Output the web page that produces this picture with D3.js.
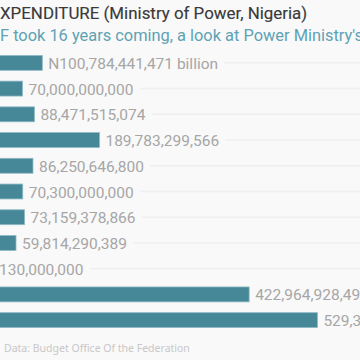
<!DOCTYPE html>
<html>
<head>
<meta charset="utf-8">
<script src="https://cdn.jsdelivr.net/npm/d3@7"></script>
<style>
  html, body { margin: 0; padding: 0; background: #f9f9f9; }
  svg { display: block; }
</style>
</head>
<body>
<script>
// Data (values in naira)
const rows = ["r1","r2","r3","r4","r5","r6","r7","r8","r9","r10","r11"];
const values = [100784441471, 70000000000, 88471515074, 189783299566, 86250646800,
                70300000000, 73159378866, 59814290389, 130000000, 422964928495, 529300000000];
const labels = ["N100,784,441,471 billion", "70,000,000,000", "88,471,515,074", "189,783,299,566",
                "86,250,646,800", "70,300,000,000", "73,159,378,866", "59,814,290,389",
                "130,000,000", "422,964,928,495", "529,300,000,000"];
const titleText = "XPENDITURE (Ministry of Power, Nigeria)";
const subtitleText = "F took 16 years coming, a look at Power Ministry's capital budget";
const sourceText = "Data: Budget Office Of the Federation";

const W = 360, H = 360;
const svg = d3.select("body").append("svg").attr("width", W).attr("height", H);
svg.append("rect").attr("width", W).attr("height", H).attr("fill", "#f9f9f9");

const x = d3.scaleLinear().domain([0, 529300000000]).range([-22.4, 317.4]);
const y = d3.scaleBand().domain(rows).range([50, 333]).paddingInner(0.42).paddingOuter(0.21);

const data = rows.map((r, i) => ({ r, v: values[i], label: labels[i] }));

// Title & subtitle
svg.append("text").attr("x", 0).attr("y", 19)
  .attr("font-family", "Roboto").attr("font-weight", 400).attr("font-size", 16.9)
  .attr("fill", "#3a3a3a").attr("stroke", "#3a3a3a").attr("stroke-width", 0.15)
  .text(titleText);
svg.append("text").attr("x", 0).attr("y", 41)
  .attr("font-family", "Roboto").attr("font-size", 16.4)
  .attr("fill", "#5ea2b4").text(subtitleText);

const g = svg.append("g");
const labelMin = -1;

const row = g.selectAll("g.row").data(data).join("g").attr("class", "row");

row.append("rect")
  .attr("x", x(0))
  .attr("y", d => y(d.r))
  .attr("width", d => Math.max(0, x(d.v) - x(0)))
  .attr("height", y.bandwidth())
  .attr("fill", "#468898")
  .attr("stroke", "#8fbac5").attr("stroke-width", 0.8);

const lbl = row.append("text")
  .attr("x", d => Math.max(x(d.v) + 6, labelMin))
  .attr("y", d => y(d.r) + y.bandwidth() / 2 + 6)
  .attr("font-family", "Roboto").attr("font-weight", 400).attr("font-size", 15.5)
  .attr("fill", "#a6a6a6")
  .text(d => d.label);

lbl.each(function(d) {
  const bb = this.getBBox();
  d3.select(this.parentNode).append("line")
    .attr("x1", bb.x + bb.width + 6).attr("x2", W)
    .attr("y1", y(d.r) + y.bandwidth() / 2).attr("y2", y(d.r) + y.bandwidth() / 2)
    .attr("stroke", "#efefef").attr("stroke-width", 1.5);
});

svg.append("text").attr("x", 4).attr("y", 352)
  .attr("font-family", "Noto Sans").attr("font-size", 10.5)
  .attr("fill", "#c8c8c8").text(sourceText);
</script>
</body>
</html>
